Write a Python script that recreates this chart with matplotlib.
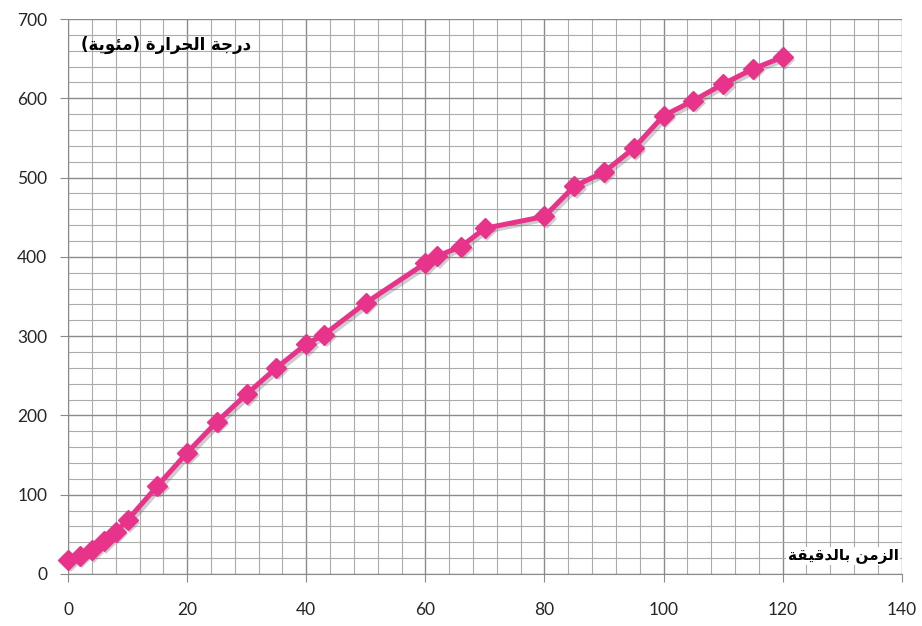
import matplotlib
matplotlib.use("Agg")
import matplotlib.pyplot as plt
from matplotlib.ticker import MultipleLocator
from matplotlib.transforms import offset_copy

# ---- data ----
time_min = [0, 2, 4, 6, 8, 10, 15, 20, 25, 30, 35, 40, 43, 50, 60, 62, 66, 70,
            80, 85, 90, 95, 100, 105, 110, 115, 120]
temp_c = [18, 23, 30, 41, 53, 68, 111, 153, 192, 227, 260, 290, 302, 342, 392,
          401, 413, 436, 451, 489, 507, 537, 578, 597, 618, 637, 652]
x_ticks = [0, 20, 40, 60, 80, 100, 120, 140]
y_ticks = [0, 100, 200, 300, 400, 500, 600, 700]
y_label = "درجة الحرارة (مئوية)"
x_label = "الزمن بالدقيقة"

# ---- minimal Arabic shaping (presentation forms) + visual reordering ----
FORMS = {
    '\u0627': ('\uFE8D', '\uFE8E', None, None),
    '\u0628': ('\uFE8F', '\uFE90', '\uFE91', '\uFE92'),
    '\u0629': ('\uFE93', '\uFE94', None, None),
    '\u062C': ('\uFE9D', '\uFE9E', '\uFE9F', '\uFEA0'),
    '\u062D': ('\uFEA1', '\uFEA2', '\uFEA3', '\uFEA4'),
    '\u062F': ('\uFEA9', '\uFEAA', None, None),
    '\u0631': ('\uFEAD', '\uFEAE', None, None),
    '\u0632': ('\uFEAF', '\uFEB0', None, None),
    '\u0642': ('\uFED5', '\uFED6', '\uFED7', '\uFED8'),
    '\u0644': ('\uFEDD', '\uFEDE', '\uFEDF', '\uFEE0'),
    '\u0645': ('\uFEE1', '\uFEE2', '\uFEE3', '\uFEE4'),
    '\u0646': ('\uFEE5', '\uFEE6', '\uFEE7', '\uFEE8'),
    '\u0648': ('\uFEED', '\uFEEE', None, None),
    '\u064A': ('\uFEF1', '\uFEF2', '\uFEF3', '\uFEF4'),
    '\u0626': ('\uFE89', '\uFE8A', '\uFE8B', '\uFE8C'),
}


def shape_ar(s):
    out = []
    n = len(s)
    for i, ch in enumerate(s):
        if ch not in FORMS:
            out.append(ch)
            continue
        iso, fin, ini, med = FORMS[ch]
        prev = s[i - 1] if i > 0 else None
        nxt = s[i + 1] if i + 1 < n else None
        joins_prev = prev in FORMS and FORMS[prev][2] is not None
        joins_next = nxt in FORMS and ini is not None
        if joins_prev and joins_next:
            out.append(med)
        elif joins_prev:
            out.append(fin)
        elif joins_next:
            out.append(ini)
        else:
            out.append(iso)
    vis = ''.join(reversed(out))
    mirror = {'(': ')', ')': '('}
    return ''.join(mirror.get(c, c) for c in vis)


fig = plt.figure(figsize=(9.22, 6.26), dpi=100)
ax = fig.add_axes([0.0738, 0.0831, 0.9042, 0.8865])

ax.set_xlim(0, 140)
ax.set_ylim(0, 700)
ax.set_xticks(x_ticks)
ax.set_yticks(y_ticks)
ax.xaxis.set_minor_locator(MultipleLocator(4))
ax.yaxis.set_minor_locator(MultipleLocator(20))

ax.grid(which='major', color='#8a8a8a', linewidth=1.0)
ax.grid(which='minor', color='#ababab', linewidth=0.8)
ax.set_axisbelow(True)

for side in ['top', 'right']:
    ax.spines[side].set_visible(False)
ax.spines['left'].set_color('#8a8a8a')
ax.spines['bottom'].set_color('#8a8a8a')

ax.tick_params(axis='both', which='minor', length=0)
ax.tick_params(axis='x', which='major', length=6, color='#8a8a8a', pad=14,
               labelsize=12.5, labelcolor='#262626')
ax.tick_params(axis='y', which='major', length=6, color='#8a8a8a', pad=9,
               labelsize=12.5, labelcolor='#262626')
for lab in ax.get_xticklabels() + ax.get_yticklabels():
    lab.set_fontfamily('Lato')

# soft shadow, drawn from the same data, offset a few pixels
shadow_tr = offset_copy(ax.transData, fig=fig, x=2.5, y=-2.5, units='dots')
ax.plot(time_min, temp_c, color='#707070', alpha=0.35, linewidth=3.6,
        marker='D', markersize=10.5, markeredgewidth=0, transform=shadow_tr,
        clip_on=False, zorder=2.5)
ax.plot(time_min, temp_c, color='#e8338a', linewidth=3.6, marker='D',
        markersize=10, markerfacecolor='#e8338a', markeredgecolor='#e8338a',
        clip_on=False, zorder=3)

ax.text(16.5, 667, shape_ar(y_label), ha='center', va='center', fontsize=12,
        fontweight='bold', family=['DejaVu Sans'], color='black')
ax.text(139.5, 23, shape_ar(x_label), ha='right', va='center', fontsize=11,
        fontweight='bold', family=['DejaVu Sans'], color='black',
        bbox=dict(facecolor='white', edgecolor='none', pad=1))

fig.savefig('out.png', dpi=100)
